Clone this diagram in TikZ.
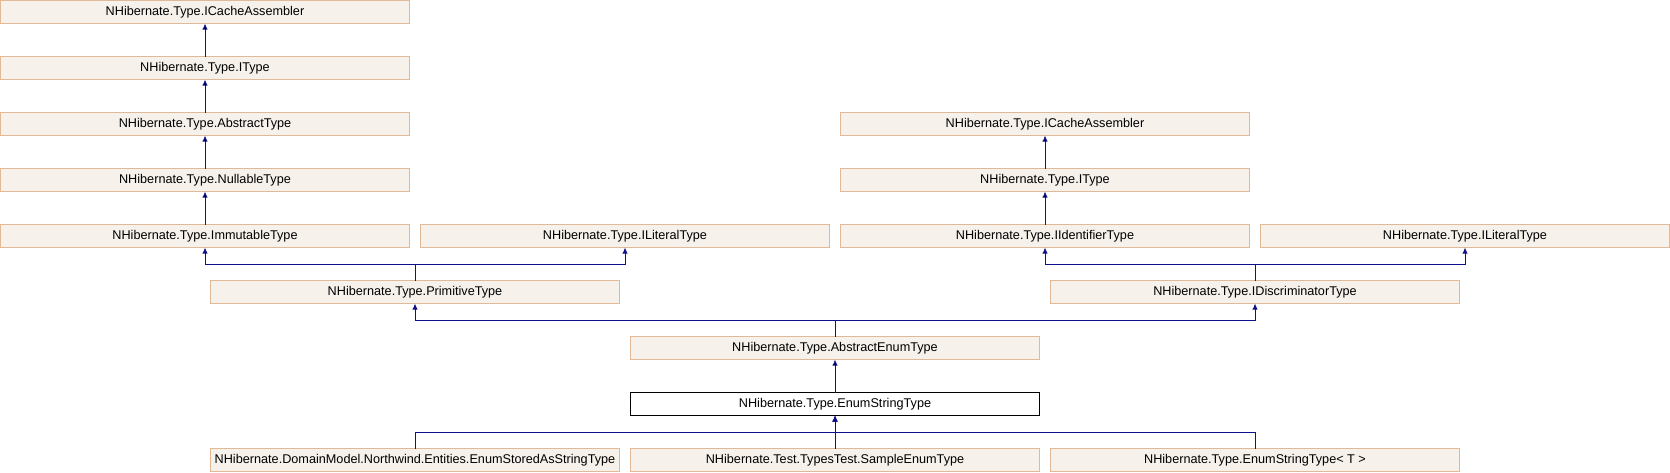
\documentclass[tikz,border=0pt]{standalone}
\usepackage{fontspec}
\setmainfont{Liberation Sans}
\usepackage{tikz}
\usetikzlibrary{arrows.meta,positioning,calc}
\definecolor{boxfill}{RGB}{246,241,235}
\definecolor{boxline}{RGB}{225,185,150}
\definecolor{edgeblue}{RGB}{16,16,140}

\begin{document}
\begin{tikzpicture}[->,>={Latex[length=4.5pt,width=4pt]},node distance=24.75pt and 8.25pt,
			line width=0.75pt]
			\tikzstyle{cls}=[draw=boxline,fill=boxfill,text=black,minimum width=306.75pt,minimum height=17.25pt,inner sep=0pt,outer sep=0pt,font=\fontsize{9.5pt}{11pt}\selectfont]
			\tikzstyle{cur}=[cls,draw=black,fill=white]
			\tikzstyle{inherit}=[draw=edgeblue]
			
			\useasboundingbox (0,0) rectangle (1252.5pt,-354pt);
			
			\node[cls, anchor=north west]    (S1) at (0.375pt,-0.375pt)   {NHibernate.Type.ICacheAssembler};
			\node[cls]    (S2)[below=of S1]		{NHibernate.Type.IType};
			\node[cls]    (S3)[below=of S2]		{NHibernate.Type.AbstractType};
			\node[cls]    (S4)[below=of S3]		{NHibernate.Type.NullableType};
			\node[cls]    (S5)[below=of S4]		{NHibernate.Type.ImmutableType};
			\node[cls]    (S6)[right=of S5]		{NHibernate.Type.ILiteralType};
			\node[cls]    (S7)[right=of S6]		{NHibernate.Type.IIdentifierType};
			\node[cls]    (S8)[right=of S7]		{NHibernate.Type.ILiteralType};
			\node[cls]    (S9)[above=of S7]		{NHibernate.Type.IType};
			\node[cls]    (S10)[above=of S9]		{NHibernate.Type.ICacheAssembler};
			\coordinate (M1) at ($(S5.south)!0.5!(S6.south)$);
			\node[cls]    (S11)[below=of M1]		{NHibernate.Type.PrimitiveType};
			\coordinate (M2) at ($(S7.south)!0.5!(S8.south)$);
			\node[cls]    (S12)[below=of M2]		{NHibernate.Type.IDiscriminatorType};
			\coordinate (M3) at ($(S11.south)!0.5!(S12.south)$);
			\node[cls]    (S13)[below=of M3]		{NHibernate.Type.AbstractEnumType};
			\node[cur]    (S14)[below=of S13]		{NHibernate.Type.EnumStringType};
			\node[cls]    (S15)[below=of S14]		{NHibernate.Test.TypesTest.SampleEnumType};
			\node[cls]    (S16)[left=of S15]		{NHibernate.DomainModel.Northwind.Entities.EnumStoredAsStringType};
			\node[cls]    (S17)[right=of S15]		{NHibernate.Type.EnumStringType< T >};
			
			\path[inherit]
			
			(S2) edge (S1)
			(S3) edge (S2)
			(S4) edge (S3)
			(S5) edge (S4)
			(S9) edge (S10)
			(S7) edge (S9)
			(S14) edge (S13)
			(S15) edge (S14);
			
			\draw[inherit] (S11.north) -- ++(0,12.375pt) -| (S5.south);
			\draw[inherit] (S11.north) -- ++(0,12.375pt) -| (S6.south);
			\draw[inherit] (S12.north) -- ++(0,12.375pt) -| (S7.south);
			\draw[inherit] (S12.north) -- ++(0,12.375pt) -| (S8.south);
			\draw[inherit] (S13.north) -- ++(0,12.375pt) -| (S11.south);
			\draw[inherit] (S13.north) -- ++(0,12.375pt) -| (S12.south);
			\draw[inherit] (S16.north) -- ++(0,12.375pt) -| (S14.south);
			\draw[inherit] (S17.north) -- ++(0,12.375pt) -| (S14.south);
			\end{tikzpicture}
\end{document}
